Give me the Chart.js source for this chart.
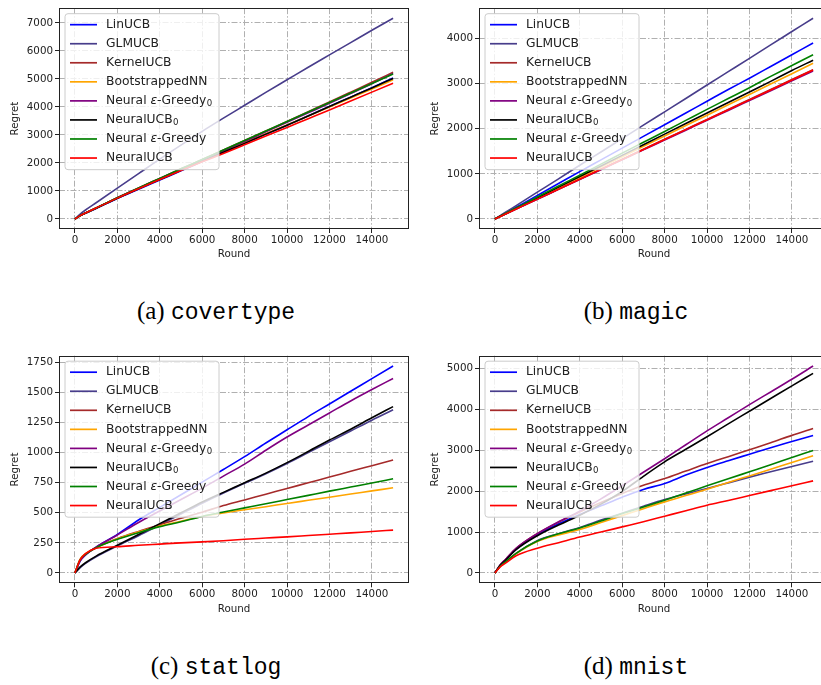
<!DOCTYPE html>
<html><head><meta charset="utf-8">
<script src="https://cdn.jsdelivr.net/npm/chart.js@4.4.1/dist/chart.umd.min.js"></script>
<style>
html,body{margin:0;padding:0;background:#fff;width:821px;height:685px;overflow:hidden;position:relative}
.c{position:absolute}
.cap{position:absolute;transform:translate(-50%,-50%);white-space:nowrap;color:#000;line-height:1}
.cap .s{font-family:"Liberation Serif",serif;font-size:25px}
.cap .m{font-family:"Liberation Mono",monospace;font-size:23px}
</style></head><body>
<canvas id="ca" class="c" style="left:0;top:0" width="410" height="270"></canvas>
<canvas id="cb" class="c" style="left:410px;top:0" width="421" height="270"></canvas>
<canvas id="cc" class="c" style="left:0;top:340px" width="410" height="280"></canvas>
<canvas id="cd" class="c" style="left:410px;top:340px" width="421" height="280"></canvas>
<div class="cap" style="left:216px;top:311px"><span class="s">(a) </span><span class="m">covertype</span></div>
<div class="cap" style="left:636px;top:311px"><span class="s">(b) </span><span class="m">magic</span></div>
<div class="cap" style="left:216px;top:666px"><span class="s">(c) </span><span class="m">statlog</span></div>
<div class="cap" style="left:636px;top:666px"><span class="s">(d) </span><span class="m">mnist</span></div>
<script>
// ---------- data ----------
const rounds = [0,250,500,1000,2000,3000,4000,5000,6000,7000,8000,9000,10000,11000,12000,13000,14000,15000];
const seriesNames = ['LinUCB','GLMUCB','KernelUCB','BootstrappedNN','Neural ε-Greedy₀','NeuralUCB₀','Neural ε-Greedy','NeuralUCB'];
const seriesColors = ['#0000ff','#483d8b','#a52a2a','#ffa500','#800080','#000000','#008000','#ff0000'];
const xTickValues = [0,2000,4000,6000,8000,10000,12000,14000];

// (a) covertype
const cov_LinUCB          = [0,115,205,375,730,1060,1390,1720,2050,2370,2700,3030,3350,3690,4020,4350,4690,5040];
const cov_GLMUCB          = [0,175,320,580,1100,1620,2140,2640,3130,3600,4060,4520,4970,5420,5860,6300,6740,7170];
const cov_KernelUCB       = [0,120,215,395,760,1110,1450,1790,2120,2460,2800,3140,3480,3830,4180,4530,4880,5240];
const cov_BootstrappedNN  = [0,120,215,390,750,1090,1430,1760,2080,2400,2720,3040,3360,3680,4000,4320,4640,4970];
const cov_NeuralEpsGreedy0= [0,120,215,390,755,1100,1440,1780,2100,2430,2770,3110,3450,3790,4130,4480,4830,5200];
const cov_NeuralUCB0      = [0,118,210,385,740,1080,1410,1740,2060,2380,2700,3030,3350,3680,4020,4350,4680,5020];
const cov_NeuralEpsGreedy = [0,120,215,395,760,1110,1450,1790,2120,2460,2800,3140,3480,3820,4160,4500,4840,5180];
const cov_NeuralUCB       = [0,120,212,390,745,1080,1410,1730,2040,2340,2650,2960,3270,3580,3890,4210,4530,4850];
const cov_yTicks = [0,1000,2000,3000,4000,5000,6000,7000];

// (b) magic
const mag_LinUCB          = [0,65,130,260,520,785,1050,1310,1570,1830,2090,2350,2610,2870,3120,3380,3640,3900];
const mag_GLMUCB          = [0,74,148,297,594,890,1190,1485,1780,2080,2375,2670,2970,3265,3560,3860,4155,4450];
const mag_KernelUCB       = [0,55,110,221,441,662,883,1103,1324,1545,1765,1986,2207,2427,2648,2869,3090,3310];
const mag_BootstrappedNN  = [0,58,115,230,460,690,920,1150,1380,1610,1840,2070,2300,2530,2760,2990,3220,3450];
const mag_NeuralEpsGreedy0= [0,55,109,219,437,656,875,1093,1312,1531,1749,1968,2187,2405,2624,2843,3061,3280];
const mag_NeuralUCB0      = [0,59,117,235,470,705,940,1175,1410,1645,1880,2115,2350,2580,2815,3050,3290,3520];
const mag_NeuralEpsGreedy = [0,61,122,243,485,730,970,1215,1460,1700,1940,2185,2430,2670,2910,3160,3400,3640];
const mag_NeuralUCB       = [0,55,110,220,440,660,880,1100,1320,1540,1760,1980,2200,2420,2640,2860,3080,3300];
const mag_yTicks = [0,1000,2000,3000,4000];

// (c) statlog
const sta_LinUCB          = [0,100,150,215,320,440,545,650,755,860,967,1080,1190,1300,1405,1510,1615,1720];
const sta_GLMUCB          = [0,45,80,135,225,310,400,490,580,665,745,825,910,1000,1090,1180,1270,1356];
const sta_KernelUCB       = [0,110,155,210,285,345,400,455,505,560,607,655,702,750,797,845,892,939];
const sta_BootstrappedNN  = [0,115,160,210,285,340,390,430,470,499,525,551,578,604,630,656,682,708];
const sta_NeuralEpsGreedy0= [0,100,150,215,315,420,515,610,705,805,905,1020,1130,1230,1330,1430,1525,1617];
const sta_NeuralUCB0      = [0,50,85,140,230,320,410,500,590,670,750,830,917,1010,1105,1195,1290,1383];
const sta_NeuralEpsGreedy = [0,110,155,210,280,335,385,425,470,507,541,575,610,645,680,714,748,783];
const sta_NeuralUCB       = [0,110,160,205,218,230,240,250,258,268,280,290,300,311,322,333,345,356];
const sta_yTicks = [0,250,500,750,1000,1250,1500,1750];

// (d) mnist
const mni_LinUCB          = [0,190,320,580,930,1200,1430,1640,1850,2040,2184,2390,2575,2740,2900,3060,3210,3358];
const mni_GLMUCB          = [0,170,270,480,790,960,1110,1290,1460,1630,1793,1930,2062,2200,2340,2470,2600,2730];
const mni_KernelUCB       = [0,195,330,600,960,1240,1490,1720,1940,2140,2306,2490,2673,2840,3010,3180,3360,3529];
const mni_BootstrappedNN  = [0,165,265,470,770,930,1060,1230,1400,1570,1736,1890,2046,2210,2370,2530,2700,2861];
const mni_NeuralEpsGreedy0= [0,195,330,600,960,1250,1510,1810,2130,2460,2790,3130,3470,3790,4110,4420,4730,5053];
const mni_NeuralUCB0      = [0,185,310,570,910,1170,1410,1680,1990,2360,2714,3020,3325,3640,3950,4260,4570,4874];
const mni_NeuralEpsGreedy = [0,165,270,480,780,955,1100,1270,1450,1610,1777,1950,2127,2300,2470,2640,2820,2991];
const mni_NeuralUCB       = [0,150,240,420,604,740,880,1000,1125,1250,1385,1520,1654,1770,1890,2010,2130,2249];
const mni_yTicks = [0,1000,2000,3000,4000,5000];

// ---------- drawing ----------
const TXT = '#222';
const FONT = '"DejaVu Sans", sans-serif';

function drawLabel(ctx, s, x, y) {
  let cx = x;
  for (const ch of s) {
    if (ch === 'ε') {
      ctx.font = 'italic 12.3px ' + FONT;
      ctx.fillText(ch, cx, y);
      cx += ctx.measureText(ch).width;
    } else if (ch === '₀') {
      ctx.font = '8.6px ' + FONT;
      ctx.fillText('0', cx + 0.3, y + 3.2);
      cx += ctx.measureText('0').width + 0.3;
    } else {
      ctx.font = '12.3px ' + FONT;
      ctx.fillText(ch, cx, y);
      cx += ctx.measureText(ch).width;
    }
  }
}

const framePlugin = {
  id: 'frame',
  afterDatasetsDraw(chart) {
    const ctx = chart.ctx, a = chart.chartArea;
    // legend
    const lx = a.left + 6, ly = a.top + 5.5, lw = 154, lh = 156, r = 3;
    ctx.save();
    ctx.beginPath();
    ctx.moveTo(lx + r, ly);
    ctx.arcTo(lx + lw, ly, lx + lw, ly + lh, r);
    ctx.arcTo(lx + lw, ly + lh, lx, ly + lh, r);
    ctx.arcTo(lx, ly + lh, lx, ly, r);
    ctx.arcTo(lx, ly, lx + lw, ly, r);
    ctx.closePath();
    ctx.fillStyle = 'rgba(255,255,255,0.8)';
    ctx.fill();
    ctx.strokeStyle = '#cccccc';
    ctx.lineWidth = 1;
    ctx.stroke();
    ctx.textBaseline = 'middle';
    ctx.textAlign = 'left';
    chart.data.datasets.forEach((ds, i) => {
      const y = ly + 11 + i * 19.05;
      ctx.beginPath();
      ctx.moveTo(lx + 5, y);
      ctx.lineTo(lx + 32, y);
      ctx.strokeStyle = ds.borderColor;
      ctx.lineWidth = 1.7;
      ctx.stroke();
      ctx.fillStyle = TXT;
      drawLabel(ctx, ds.label, lx + 41, y);
    });
    // spines
    ctx.strokeStyle = '#222';
    ctx.lineWidth = 1;
    const L = Math.round(a.left) + 0.5, T = Math.round(a.top) + 0.5;
    const R = Math.round(a.right) - 0.5, B = Math.round(a.bottom) - 0.5;
    ctx.strokeRect(L, T, R - L, B - T);
    ctx.restore();
  }
};

function makeChart(id, series, yTicks, cfg) {
  const maxV = Math.max(...series.flat());
  const datasets = series.map((vals, i) => ({
    label: seriesNames[i],
    data: rounds.map((x, k) => ({x: x, y: vals[k]})),
    borderColor: seriesColors[i],
    backgroundColor: seriesColors[i],
    borderWidth: 1.6,
    pointRadius: 0,
    fill: false,
    cubicInterpolationMode: 'monotone',
    order: series.length - 1 - i
  }));
  const gridCommon = {
    color: '#b0b0b0', lineWidth: 1, tickLength: 4, tickColor: TXT, tickWidth: 1,
    tickBorderDash: [], drawTicks: true
  };
  const borderCommon = { display: false, dash: [6, 2, 1.5, 2] };
  new Chart(document.getElementById(id), {
    type: 'line',
    data: { datasets },
    options: {
      responsive: false, animation: false, events: [],
      layout: { padding: cfg.pad },
      plugins: { legend: { display: false }, tooltip: { enabled: false } },
      scales: {
        x: {
          type: 'linear', min: -750, max: 15750,
          afterBuildTicks: s => { s.ticks = xTickValues.map(v => ({value: v})); },
          afterFit: s => { s.height = cfg.xh; },
          ticks: { callback: v => String(v), font: {family: FONT, size: 10.3}, color: TXT, padding: 1, maxRotation: 0, autoSkip: false },
          grid: gridCommon, border: borderCommon,
          title: { display: true, text: 'Round', font: {family: FONT, size: 10.3}, color: TXT, padding: {top: 0, bottom: cfg.xtp} }
        },
        y: {
          type: 'linear', min: -0.05 * maxV, max: 1.05 * maxV,
          afterBuildTicks: s => { s.ticks = yTicks.map(v => ({value: v})); },
          afterFit: s => { s.width = cfg.yw; },
          ticks: { callback: v => String(v), font: {family: FONT, size: 10.3}, color: TXT, padding: 2, autoSkip: false },
          grid: gridCommon, border: borderCommon,
          title: { display: true, text: 'Regret', font: {family: FONT, size: 10.3}, color: TXT, padding: {top: cfg.ytp, bottom: 0} }
        }
      }
    },
    plugins: [framePlugin]
  });
}

makeChart('ca',
  [cov_LinUCB, cov_GLMUCB, cov_KernelUCB, cov_BootstrappedNN, cov_NeuralEpsGreedy0, cov_NeuralUCB0, cov_NeuralEpsGreedy, cov_NeuralUCB],
  cov_yTicks, {pad: {left: 0, right: 1, top: 2, bottom: 0}, xh: 41, yw: 59, xtp: 9, ytp: 9});
makeChart('cb',
  [mag_LinUCB, mag_GLMUCB, mag_KernelUCB, mag_BootstrappedNN, mag_NeuralEpsGreedy0, mag_NeuralUCB0, mag_NeuralEpsGreedy, mag_NeuralUCB],
  mag_yTicks, {pad: {left: 0, right: 2, top: 2, bottom: 0}, xh: 41, yw: 69, xtp: 9, ytp: 19});
makeChart('cc',
  [sta_LinUCB, sta_GLMUCB, sta_KernelUCB, sta_BootstrappedNN, sta_NeuralEpsGreedy0, sta_NeuralUCB0, sta_NeuralEpsGreedy, sta_NeuralUCB],
  sta_yTicks, {pad: {left: 0, right: 1, top: 15.7, bottom: 0}, xh: 36.7, yw: 59, xtp: 4.7, ytp: 9});
makeChart('cd',
  [mni_LinUCB, mni_GLMUCB, mni_KernelUCB, mni_BootstrappedNN, mni_NeuralEpsGreedy0, mni_NeuralUCB0, mni_NeuralEpsGreedy, mni_NeuralUCB],
  mni_yTicks, {pad: {left: 0, right: 2, top: 15.7, bottom: 0}, xh: 36.7, yw: 69, xtp: 4.7, ytp: 19});
</script>
</body></html>
